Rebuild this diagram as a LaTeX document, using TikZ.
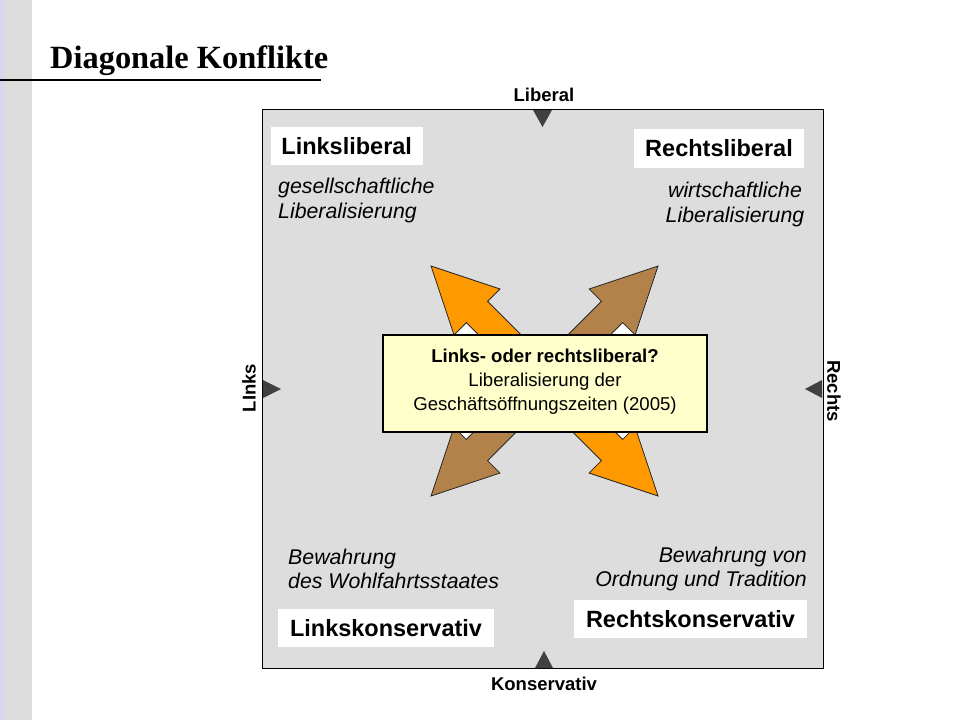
\documentclass[tikz,border=0pt]{standalone}
\usepackage{fontspec}
\setmainfont{Liberation Sans}
\newfontfamily\titlefont{Liberation Serif}
\definecolor{panelgray}{RGB}{221,221,221}
\definecolor{stripgray}{RGB}{221,221,221}
\definecolor{striplav}{RGB}{214,214,238}
\definecolor{markgray}{RGB}{64,64,64}
\definecolor{arrorange}{RGB}{255,153,0}
\definecolor{arrbrown}{RGB}{178,130,74}
\definecolor{boxyellow}{RGB}{255,255,204}
\newcommand{\DiagArrow}[4]{%
  \begin{scope}[shift={#1}, rotate=#2]
    \fill[white] (65pt,#4*15pt) -- (65pt,#4*60pt) -- (110pt,#4*60pt) -- (110pt,#4*15pt) -- cycle;
    \filldraw[fill=#3, draw=black!85, line width=0.8pt, line join=miter]
      (0pt,0pt) -- (65pt,32.5pt) -- (65pt,15pt) -- (170pt,15pt) -- (170pt,-15pt)
      -- (65pt,-15pt) -- (65pt,-32.5pt) -- cycle;
  \end{scope}}
\tikzset{
  quadlabel/.style={fill=white, inner sep=0pt, font=\fontsize{23.5}{28}\selectfont\bfseries},
  desc/.style={inner sep=0pt, font=\fontsize{21.3}{24.5}\selectfont\itshape},
  axislabel/.style={inner sep=0pt, font=\fontsize{18.5}{22}\selectfont\bfseries},
  marker/.style={fill=markgray, draw=none}
}
\begin{document}
\begin{tikzpicture}[x=1pt,y=-1pt]
\useasboundingbox (0,0) rectangle (960,720);
\fill[white] (0,0) rectangle (960,720);
% left strip
\fill[stripgray] (0,0) rectangle (32,720);
\fill[striplav] (0,0) rectangle (4,720);
% title
\node[anchor=base west, inner sep=0pt, font=\titlefont\fontsize{32.4}{36}\selectfont\bfseries] (title) at (50,68) {Diagonale Konflikte};
\draw[line width=2pt] (0,80) coordinate (ulA) -- (321,80) coordinate (ulB);
% main panel
\filldraw[fill=panelgray, draw=black, line width=1pt] (262.5,109.5) rectangle (823.5,668.5);
% axis markers
\fill[marker] (533,110) -- (552,110) -- (542.5,127) -- cycle;
\fill[marker] (535,668) -- (553,668) -- (544,651) -- cycle;
\fill[marker] (263,380) -- (263,398) -- (281,389) -- cycle;
\fill[marker] (822,380) -- (822,398) -- (805,389) -- cycle;
% axis labels
\node[axislabel] (lib) at (544,95) {Liberal};
\node[axislabel] (kons) at (544,684) {Konservativ};
\node[axislabel, rotate=90] (links) at (249,388) {LInks};
\node[axislabel, rotate=-90] (rechts) at (834,391) {Rechts};
% arrows
\DiagArrow{(431,266)}{-45}{arrorange}{-1}
\DiagArrow{(658,266)}{-135}{arrbrown}{1}
\DiagArrow{(431,496)}{45}{arrbrown}{1}
\DiagArrow{(658,496)}{135}{arrorange}{-1}
% center box
\filldraw[fill=boxyellow, draw=black, line width=1.3pt] (383,335) rectangle (707,432);
\node[inner sep=0pt, align=center, font=\fontsize{18.6}{24}\selectfont] (center) at (545,382)
  {{\bfseries Links- oder rechtsliberal?}\\Liberalisierung der\\Geschäftsöffnungszeiten (2005)};
% quadrant labels
\node[quadlabel, minimum width=152pt, minimum height=38pt] (ll) at (346.7,145.8) {Linksliberal};
\node[quadlabel, minimum width=170pt, minimum height=38.7pt] (rl) at (719,148.3) {Rechtsliberal};
\node[quadlabel, minimum width=216pt, minimum height=37.7pt] (lk) at (386,628) {Linkskonservativ};
\node[quadlabel, minimum width=233pt, minimum height=37.7pt] (rk) at (690.5,619) {Rechtskonservativ};
% descriptions
\node[desc, anchor=west, align=left] (dll) at (278,200.5) {gesellschaftliche\\Liberalisierung};
\node[desc, align=center] (drl) at (735,204.5) {wirtschaftliche\\Liberalisierung};
\node[desc, anchor=west, align=left] (dlk) at (288,569) {Bewahrung\\des Wohlfahrtsstaates};
\node[desc, anchor=east, align=right] (drk) at (807,569) {Bewahrung von\\Ordnung und Tradition};
\end{tikzpicture}
\end{document}
